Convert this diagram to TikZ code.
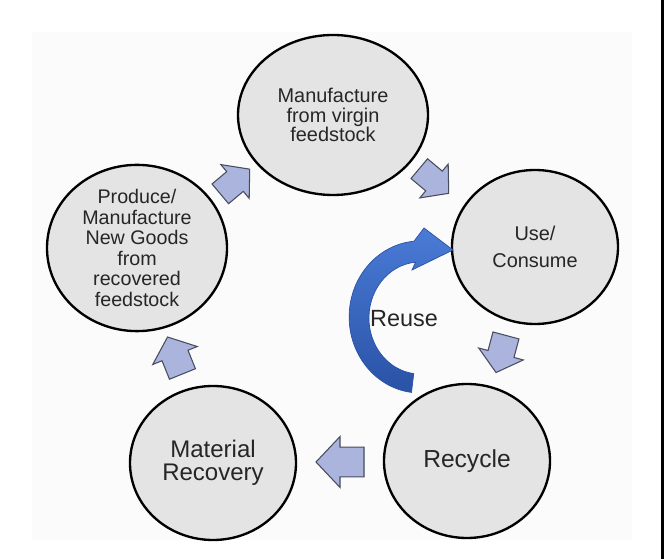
\documentclass[tikz,border=0pt]{standalone}
\usepackage{fontspec}
\setmainfont{Liberation Sans}
\usetikzlibrary{shapes.geometric,calc}
\definecolor{ellfill}{HTML}{E4E4E4}
\definecolor{txt}{HTML}{262626}
\definecolor{blk}{HTML}{AAB4DC}
\definecolor{blkline}{HTML}{474C5E}
\definecolor{reuseA}{HTML}{4A7BD6}
\definecolor{reuseB}{HTML}{2A52A6}
\definecolor{bgc}{HTML}{FBFBFB}
\tikzset{
  stage/.style={ellipse, draw=black, line width=2pt, fill=ellfill, inner sep=0pt, align=center, text=txt},
  blkarrow/.pic={\path[fill=blk, draw=blkline, line width=0.9pt, line join=miter]
     (24,0) -- (0,24) -- (0,14) -- (-24,14) -- (-24,-14) -- (0,-14) -- (0,-24) -- cycle;}
}
\begin{document}
\begin{tikzpicture}[x=0.03cm,y=0.03cm]
\useasboundingbox (0,0) rectangle (664,559);
\fill[bgc] (32,19) rectangle (632,527);
\fill[black] (661,0) rectangle (664,559);

\node[stage, minimum width=5.7cm, minimum height=4.8cm, font=\fontsize{17pt}{16.8pt}\selectfont] (manu) at (333,444) {Manufacture\\from virgin\\feedstock};
\node[stage, minimum width=5.4cm, minimum height=4.5cm, font=\fontsize{16.8pt}{17.6pt}\selectfont] (produce) at (137,311) {Produce/\\Manufacture\\New Goods\\from\\recovered\\feedstock};
\node[stage, minimum width=4.98cm, minimum height=4.62cm, font=\fontsize{17pt}{23pt}\selectfont] (use) at (535,312) {Use/\\Consume};
\node[stage, minimum width=4.98cm, minimum height=4.62cm, font=\fontsize{20.5pt}{20pt}\selectfont] (matrec) at (213,96) {Material\\Recovery};
\node[stage, minimum width=4.98cm, minimum height=4.62cm, font=\fontsize{21pt}{22pt}\selectfont] (recyc) at (467,98) {Recycle};

\pic[rotate=180, yscale=1.06] at ($(recyc)!0.5!(matrec)$) {blkarrow};
\pic[rotate=112, xscale=0.83] at ($(matrec)!0.5!(produce)$) {blkarrow};
\pic[rotate=40, xscale=0.8, yscale=0.92] at ($(produce)!0.5!(manu)$) {blkarrow};
\pic[rotate=-40, xscale=0.8, yscale=0.92] at ($(manu)!0.5!(use)$) {blkarrow};
\pic[rotate=255, xscale=0.8, yscale=0.96] at ($(use)!0.5!(recyc)$) {blkarrow};

\path[top color=reuseA, bottom color=reuseB, draw=reuseB, line width=0.6pt]
  (411.5,166.6) arc[start angle=263, end angle=95, x radius=71, y radius=76]
  -- (424,331) -- (453,309) -- (412,289) -- (415.5,296.8)
  arc[start angle=95, end angle=263, x radius=51, y radius=56] -- cycle;
\node[text=txt, font=\fontsize{20pt}{22pt}\selectfont] (reuselbl) at (404,240) {Reuse};
\end{tikzpicture}
\end{document}
